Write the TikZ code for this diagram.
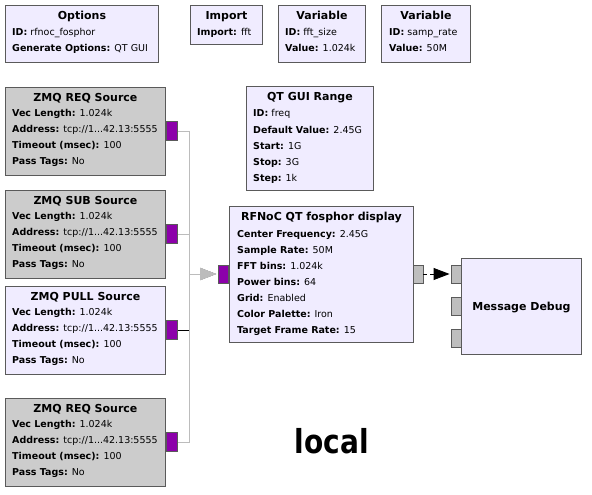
\documentclass[tikz,border=0pt]{standalone}
\usepackage{fontspec}
\setmainfont{DejaVu Sans}
\usetikzlibrary{arrows.meta,calc}
\definecolor{lav}{RGB}{240,236,255}
\definecolor{dis}{RGB}{204,204,204}
\definecolor{edge}{RGB}{90,90,90}
\definecolor{vec}{RGB}{140,0,170}
\definecolor{msg}{RGB}{190,190,190}
\definecolor{wiregrey}{RGB}{188,188,188}
\newcommand{\zmqaddr}{tcp://1...42.13:5555}

\begin{document}
\begin{tikzpicture}[x=1pt,y=-1pt,
 blk/.style={draw=edge,line width=0.9pt,fill=lav,anchor=north west,inner sep=0pt},
 ttl/.style={font=\fontsize{11}{12}\selectfont\bfseries,anchor=mid,inner sep=0pt},
 prm/.style={font=\fontsize{9.5}{11}\selectfont,anchor=mid west,inner sep=0pt},
 vport/.style={draw=edge,line width=0.9pt,fill=vec,minimum width=11pt,minimum height=19pt,inner sep=0pt},
 mport/.style={draw=edge,line width=0.9pt,fill=msg,minimum width=10pt,minimum height=18pt,inner sep=0pt},
 wire/.style={draw=wiregrey,line width=0.9pt,shorten >=2pt,-{Triangle[length=16pt,width=12pt]}},
 wireon/.style={draw=black,line width=0.9pt,shorten >=2pt,-{Triangle[length=16pt,width=12pt]}},
 msgwire/.style={draw=black,line width=0.9pt,dash pattern=on 4pt off 3pt,shorten >=1pt,-{Triangle[length=16pt,width=12pt]}}]
 \fill[white] (0,0) rectangle (592,495);
 \useasboundingbox (0,0) rectangle (592,495);

 % top row
 \node[blk,minimum width=153pt,minimum height=57pt] (opt) at (5,5) {};
 \node[ttl] (opt-t) at ($(opt.north)+(0,12)$) {Options};
 \node[prm] (opt-1) at (12,33) {\textbf{ID:} rfnoc\_fosphor};
 \node[prm] (opt-2) at (12,49) {\textbf{Generate Options:} QT GUI};

 \node[blk,minimum width=72pt,minimum height=39pt] (imp) at (190,5) {};
 \node[ttl] (imp-t) at ($(imp.north)+(0,12)$) {Import};
 \node[prm] (imp-1) at (197,33) {\textbf{Import:} fft};

 \node[blk,minimum width=87pt,minimum height=57pt] (vfft) at (278,5) {};
 \node[ttl] (vfft-t) at ($(vfft.north)+(0,12)$) {Variable};
 \node[prm] (vfft-1) at (285,33) {\textbf{ID:} fft\_size};
 \node[prm] (vfft-2) at (285,49) {\textbf{Value:} 1.024k};

 \node[blk,minimum width=89pt,minimum height=57pt] (vsr) at (381,5) {};
 \node[ttl] (vsr-t) at ($(vsr.north)+(0,12)$) {Variable};
 \node[prm] (vsr-1) at (389,33) {\textbf{ID:} samp\_rate};
 \node[prm] (vsr-2) at (389,49) {\textbf{Value:} 50M};

 % sources
 \foreach \nm/\top/\ttl/\fil in {zreq1/87/ZMQ REQ Source/dis,zsub/190/ZMQ SUB Source/dis,zpull/286/ZMQ PULL Source/lav,zreq2/398/ZMQ REQ Source/dis}{
   \node[blk,fill=\fil,minimum width=160pt,minimum height=88pt] (\nm) at (5,\top) {};
   \node[ttl] (\nm-t) at ($(\nm.north)+(0,12)$) {\ttl};
   \foreach \txt [count=\i] in {{\textbf{Vec Length:} 1.024k},{\textbf{Address:} \zmqaddr},{\textbf{Timeout (msec):} 100},{\textbf{Pass Tags:} No}}
     \node[prm] (\nm-\i) at (12,{\top+11+16*\i}) {\txt};
   \node[vport,anchor=west] (\nm-o) at ($(\nm.north east)+(0,44)$) {};
 }

 % gui range
 \node[blk,minimum width=127pt,minimum height=104pt] (rng) at (246,86) {};
 \node[ttl] (rng-t) at ($(rng.north)+(0,12)$) {QT GUI Range};
 \foreach \txt [count=\i] in {{\textbf{ID:} freq},{\textbf{Default Value:} 2.45G},{\textbf{Start:} 1G},{\textbf{Stop:} 3G},{\textbf{Step:} 1k}}
   \node[prm] (rng-\i) at (253,{98+16.25*\i}) {\txt};

 % fosphor
 \node[blk,minimum width=184pt,minimum height=136pt] (fos) at (229,206) {};
 \node[ttl] (fos-t) at ($(fos.north)+(0,12)$) {RFNoC QT fosphor display};
 \foreach \txt [count=\i] in {{\textbf{Center Frequency:} 2.45G},{\textbf{Sample Rate:} 50M},{\textbf{FFT bins:} 1.024k},{\textbf{Power bins:} 64},{\textbf{Grid:} Enabled},{\textbf{Color Palette:} Iron},{\textbf{Target Frame Rate:} 15}}
   \node[prm] (fos-\i) at (237,{219+16*\i}) {\txt};
 \node[vport,minimum width=10pt,minimum height=18pt,anchor=east] (fos-i) at (229,274) {};
 \node[mport] (fos-o) at (418,274) {};

 % message debug
 \node[blk,minimum width=120pt,minimum height=96pt] (dbg) at (461,258) {};
 \node[ttl] (dbg-t) at ($(dbg.center)+(0,1)$) {Message Debug};
 \foreach \y [count=\i] in {274,306,338}
   \node[mport] (dbg-\i) at (456,\y) {};

 % connections
 \coordinate (bus) at (189,274);
 \draw[wireon] (zpull-o.east) -| (bus) -- (fos-i.west);
 \foreach \nm in {zreq1,zsub,zreq2}
   \draw[wire] (\nm-o.east) -| (bus) -- (fos-i.west);
 \draw[msgwire] (fos-o.east) -- (dbg-1.west);

 \node[font=\fontsize{33}{36}\selectfont\bfseries,xscale=0.85,inner sep=0pt] (loc) at (332,441) {local};
\end{tikzpicture}
\end{document}
